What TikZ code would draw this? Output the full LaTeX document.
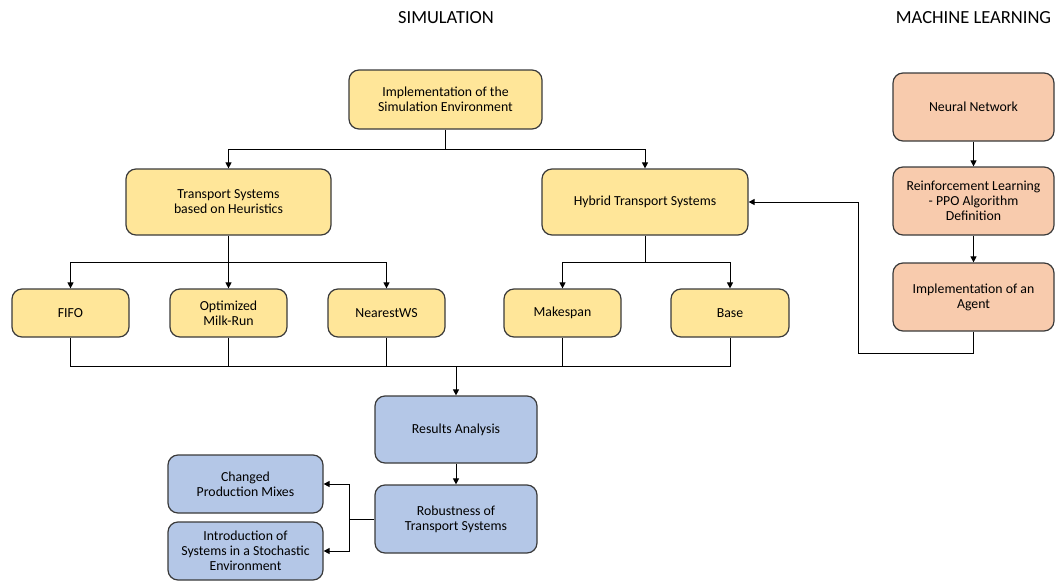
\documentclass[tikz,border=0pt]{standalone}
\usepackage{fontspec}
\setmainfont{Carlito}
\usetikzlibrary{arrows.meta}
\definecolor{simfill}{HTML}{FFE699}
\definecolor{mlfill}{HTML}{F8CBAD}
\definecolor{resfill}{HTML}{B4C7E7}
\definecolor{edge}{HTML}{3A3A3A}
\begin{document}
\begin{tikzpicture}[x=1pt,y=-1pt,
  box/.style={draw=edge,line width=1.2pt,rounded corners=10pt,align=center,
    font=\fontsize{13.8}{15}\selectfont,inner sep=0pt},
  sim/.style={box,fill=simfill},
  ml/.style={box,fill=mlfill},
  res/.style={box,fill=resfill},
  conn/.style={draw=black,line width=1pt},
  arr/.style={conn,-{Triangle[length=6pt,width=6pt]}},
  title/.style={font=\fontsize{18.5}{20}\selectfont}]
\useasboundingbox (0,0) rectangle (1060,581);

% section headings
\node[title] (tsim) at (446,18) {SIMULATION};
\node[title] (tml) at (973.5,18) {MACHINE LEARNING};

% simulation branch
\node[sim,minimum width=193pt,minimum height=59pt] (env) at (445.5,99.5) {Implementation of the\\Simulation Environment};
\node[sim,minimum width=205pt,minimum height=66pt] (heur) at (228.5,202) {Transport Systems\\based on Heuristics};
\node[sim,minimum width=206pt,minimum height=66pt] (hyb) at (645,202) {Hybrid Transport Systems};
\node[sim,minimum width=117pt,minimum height=48pt] (fifo) at (70.5,313) {FIFO};
\node[sim,minimum width=117pt,minimum height=48pt] (milk) at (228.5,313) {Optimized\\Milk-Run};
\node[sim,minimum width=117pt,minimum height=48pt] (near) at (386.5,313) {NearestWS};
\node[sim,minimum width=117pt,minimum height=48pt] (mksp) at (562.5,313) {Makespan};
\node[sim,minimum width=118pt,minimum height=48pt] (base) at (730,313) {Base};

% analysis
\node[res,minimum width=162pt,minimum height=67pt] (ana) at (456,429.5) {Results Analysis};
\node[res,minimum width=162pt,minimum height=68pt] (rob) at (456,519) {Robustness of\\Transport Systems};
\node[res,minimum width=155pt,minimum height=58pt] (mix) at (245.5,484) {Changed\\Production Mixes};
\node[res,minimum width=155pt,minimum height=58pt] (stoch) at (245.5,551) {Introduction of\\Systems in a Stochastic\\Environment};

% machine learning branch
\node[ml,minimum width=161pt,minimum height=68pt] (nn) at (973.5,107) {Neural Network};
\node[ml,minimum width=161pt,minimum height=68pt] (rl) at (973.5,201) {Reinforcement Learning\\- PPO Algorithm\\Definition};
\node[ml,minimum width=161pt,minimum height=68pt] (agent) at (973.5,297) {Implementation of an\\Agent};

% connectors
\coordinate (j1) at (445.5,149);
\draw[conn] (env.south) -- (j1);
\draw[arr] (j1) -| (heur.north);
\draw[arr] (j1) -| (hyb.north);

\coordinate (j2) at (228.5,262);
\draw[conn] (heur.south) -- (j2);
\draw[arr] (j2) -| (fifo.north);
\draw[arr] (j2) -- (milk.north);
\draw[arr] (j2) -| (near.north);

\coordinate (j3) at (645,262);
\draw[conn] (hyb.south) -- (j3);
\draw[arr] (j3) -| (mksp.north);
\draw[arr] (j3) -| (base.north);

\coordinate (j4) at (456,366);
\draw[conn] (fifo.south) |- (j4);
\draw[conn] (milk.south) |- (j4);
\draw[conn] (near.south) |- (j4);
\draw[conn] (mksp.south) |- (j4);
\draw[conn] (base.south) |- (j4);
\draw[arr] (j4) -- (ana.north);

\draw[arr] (ana) -- (rob);

\coordinate (j5) at (349,519);
\draw[conn] (rob.west) -- (j5);
\draw[arr] (j5) |- (mix.east);
\draw[arr] (j5) |- (stoch.east);

\draw[arr] (nn) -- (rl);
\draw[arr] (rl) -- (agent);
\coordinate (j6) at (858,353);
\draw[arr] (agent.south) |- (j6) |- (hyb.east);
\end{tikzpicture}
\end{document}
